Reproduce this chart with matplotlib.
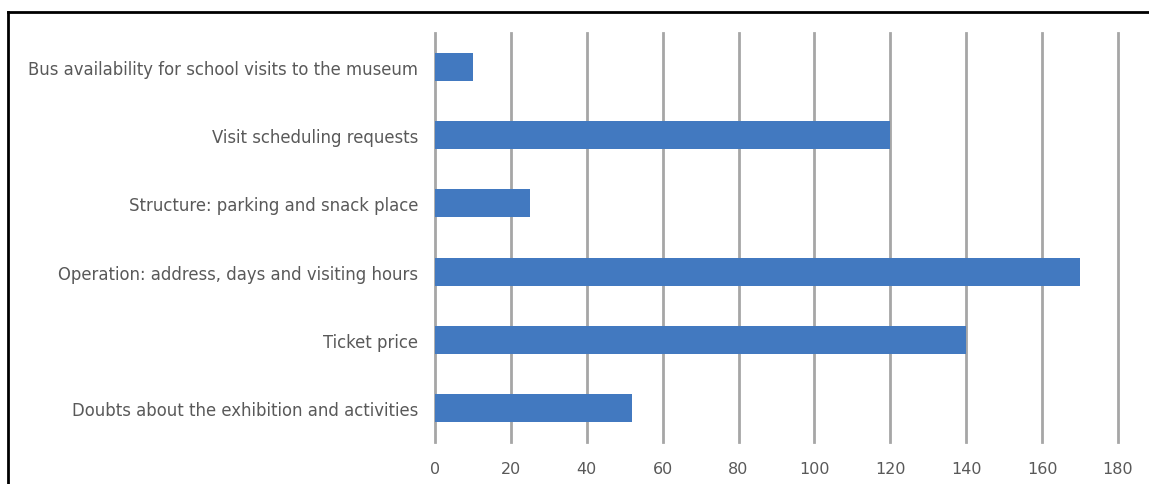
import matplotlib.pyplot as plt
from matplotlib.lines import Line2D

categories = [
    "Bus availability for school visits to the museum",
    "Visit scheduling requests",
    "Structure: parking and snack place",
    "Operation: address, days and visiting hours",
    "Ticket price",
    "Doubts about the exhibition and activities",
]
values = [10, 120, 25, 170, 140, 52]
xticks = [0, 20, 40, 60, 80, 100, 120, 140, 160, 180]

plt.rcParams['font.family'] = ['DejaVu Sans']
text_color = "#595959"
grid_color = "#a6a6a6"

fig = plt.figure(figsize=(11.49, 4.85), dpi=100)
ax = fig.add_axes([435 / 1149, 1 - 443 / 485, (1118 - 435) / 1149, (443 - 34) / 485])

pos = list(range(len(categories)))
ax.barh(pos, values, height=0.41, color="#4279c0", zorder=3)
ax.set_ylim(len(categories) - 0.5, -0.5)
ax.set_xlim(0, 180)
ax.set_yticks(pos)
ax.set_yticklabels(categories, fontsize=11.9, color=text_color)
ax.set_xticks(xticks)
ax.set_xticklabels([str(t) for t in xticks], fontsize=11.5, color=text_color)
ax.tick_params(axis="both", length=0)
ax.tick_params(axis="y", pad=12)
ax.tick_params(axis="x", pad=14)
ax.grid(axis="x", color=grid_color, linewidth=2, zorder=0)
for gl in ax.get_xgridlines():
    gl.set_clip_on(False)
for s in ax.spines.values():
    s.set_visible(False)

# outer frame (top and left edges)
fig.add_artist(Line2D([8 / 1149, 1.0], [1 - 13 / 485, 1 - 13 / 485],
                      transform=fig.transFigure, color="black", linewidth=2))
fig.add_artist(Line2D([8 / 1149, 8 / 1149], [0, 1 - 13 / 485],
                      transform=fig.transFigure, color="black", linewidth=2))

fig.savefig("out.png", dpi=100)
